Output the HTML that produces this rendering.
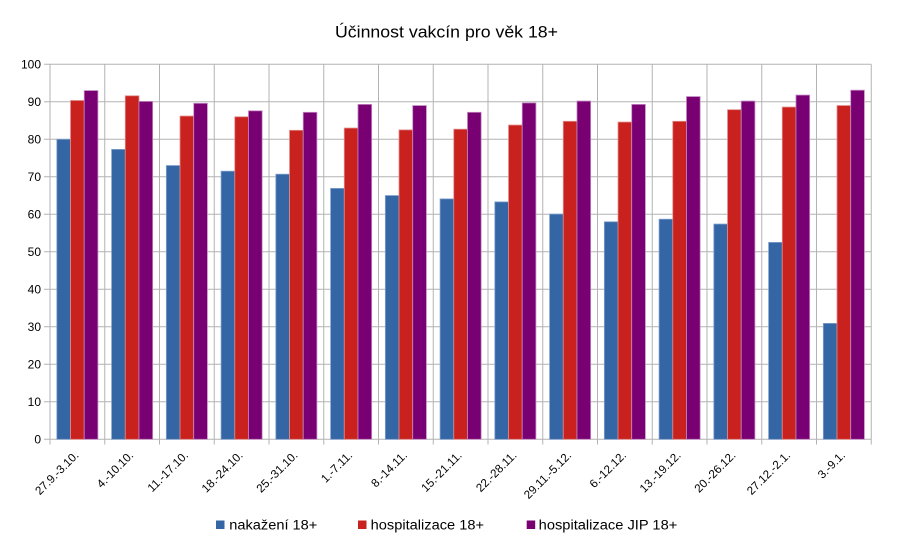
<!DOCTYPE html>
<html>
<head>
<meta charset="utf-8">
<style>
  html,body{margin:0;padding:0;background:#ffffff;}
  svg{display:block;}
  text{font-family:"Liberation Sans", "DejaVu Sans", sans-serif;fill:#000;}
</style>
</head>
<body>
<svg width="898" height="557" viewBox="0 0 898 557" xmlns="http://www.w3.org/2000/svg">
  <rect x="0" y="0" width="898" height="557" fill="#ffffff"/>
  <!-- title -->
  <text x="446.5" y="37.5" font-size="16.5" text-anchor="middle" textLength="223" lengthAdjust="spacingAndGlyphs">Účinnost vakcín pro věk 18+</text>

  <!-- horizontal gridlines -->
  <g stroke="#b3b3b3" stroke-width="1">
    <line x1="44" y1="439.3" x2="871.3" y2="439.3"/>
    <line x1="44" y1="401.8" x2="871.3" y2="401.8"/>
    <line x1="44" y1="364.3" x2="871.3" y2="364.3"/>
    <line x1="44" y1="326.8" x2="871.3" y2="326.8"/>
    <line x1="44" y1="289.3" x2="871.3" y2="289.3"/>
    <line x1="44" y1="251.8" x2="871.3" y2="251.8"/>
    <line x1="44" y1="214.3" x2="871.3" y2="214.3"/>
    <line x1="44" y1="176.8" x2="871.3" y2="176.8"/>
    <line x1="44" y1="139.3" x2="871.3" y2="139.3"/>
    <line x1="44" y1="101.8" x2="871.3" y2="101.8"/>
    <line x1="44" y1="64.3" x2="871.3" y2="64.3"/>
  </g>
  <!-- vertical gridlines + ticks -->
  <g stroke="#b3b3b3" stroke-width="1">
    <line x1="50" y1="64.3" x2="50" y2="444.5"/>
    <line x1="104.75" y1="64.3" x2="104.75" y2="444.5"/>
    <line x1="159.5" y1="64.3" x2="159.5" y2="444.5"/>
    <line x1="214.25" y1="64.3" x2="214.25" y2="444.5"/>
    <line x1="269" y1="64.3" x2="269" y2="444.5"/>
    <line x1="323.75" y1="64.3" x2="323.75" y2="444.5"/>
    <line x1="378.5" y1="64.3" x2="378.5" y2="444.5"/>
    <line x1="433.25" y1="64.3" x2="433.25" y2="444.5"/>
    <line x1="488" y1="64.3" x2="488" y2="444.5"/>
    <line x1="542.75" y1="64.3" x2="542.75" y2="444.5"/>
    <line x1="597.5" y1="64.3" x2="597.5" y2="444.5"/>
    <line x1="652.25" y1="64.3" x2="652.25" y2="444.5"/>
    <line x1="707" y1="64.3" x2="707" y2="444.5"/>
    <line x1="761.75" y1="64.3" x2="761.75" y2="444.5"/>
    <line x1="816.5" y1="64.3" x2="816.5" y2="444.5"/>
    <line x1="871.25" y1="64.3" x2="871.25" y2="444.5"/>
  </g>

  <!-- y labels -->
  <g font-size="12" text-anchor="end">
    <text x="41" y="443.5">0</text>
    <text x="41" y="406">10</text>
    <text x="41" y="368.5">20</text>
    <text x="41" y="331">30</text>
    <text x="41" y="293.5">40</text>
    <text x="41" y="256">50</text>
    <text x="41" y="218.5">60</text>
    <text x="41" y="181">70</text>
    <text x="41" y="143.5">80</text>
    <text x="41" y="106">90</text>
    <text x="41" y="68.5">100</text>
  </g>

  <!-- blue bars -->
  <g fill="#3465a4" stroke="#7f9fcc" stroke-width="0.8">
    <rect x="56.84" y="139.3" width="13.69" height="300"/>
    <rect x="111.59" y="149.4" width="13.69" height="289.9"/>
    <rect x="166.34" y="165.55" width="13.69" height="273.75"/>
    <rect x="221.09" y="171.2" width="13.69" height="268.1"/>
    <rect x="275.84" y="174.2" width="13.69" height="265.1"/>
    <rect x="330.59" y="188.4" width="13.69" height="250.9"/>
    <rect x="385.34" y="195.55" width="13.69" height="243.75"/>
    <rect x="440.09" y="198.9" width="13.69" height="240.4"/>
    <rect x="494.84" y="201.9" width="13.69" height="237.4"/>
    <rect x="549.59" y="214.1" width="13.69" height="225.2"/>
    <rect x="604.34" y="221.8" width="13.69" height="217.5"/>
    <rect x="659.09" y="219.2" width="13.69" height="220.1"/>
    <rect x="713.84" y="224.05" width="13.69" height="215.25"/>
    <rect x="768.59" y="242.4" width="13.69" height="196.9"/>
    <rect x="823.34" y="323.4" width="13.69" height="115.9"/>
  </g>
  <!-- red bars -->
  <g fill="#c9211e" stroke="#e08a88" stroke-width="0.8">
    <rect x="70.53" y="100.5" width="13.69" height="338.8"/>
    <rect x="125.28" y="95.8" width="13.69" height="343.5"/>
    <rect x="180.03" y="116.05" width="13.69" height="323.25"/>
    <rect x="234.78" y="116.8" width="13.69" height="322.5"/>
    <rect x="289.53" y="130.3" width="13.69" height="309"/>
    <rect x="344.28" y="128.05" width="13.69" height="311.25"/>
    <rect x="399.03" y="129.9" width="13.69" height="309.4"/>
    <rect x="453.78" y="129.2" width="13.69" height="310.1"/>
    <rect x="508.53" y="125.05" width="13.69" height="314.25"/>
    <rect x="563.28" y="121.3" width="13.69" height="318"/>
    <rect x="618.03" y="122.05" width="13.69" height="317.25"/>
    <rect x="672.78" y="121.3" width="13.69" height="318"/>
    <rect x="727.53" y="109.7" width="13.69" height="329.6"/>
    <rect x="782.28" y="107.05" width="13.69" height="332.25"/>
    <rect x="837.03" y="105.55" width="13.69" height="333.75"/>
  </g>
  <!-- purple bars -->
  <g fill="#780073" stroke="#c48bc2" stroke-width="0.8">
    <rect x="84.22" y="90.55" width="13.69" height="348.75"/>
    <rect x="138.97" y="101.4" width="13.69" height="337.9"/>
    <rect x="193.72" y="103.3" width="13.69" height="336"/>
    <rect x="248.47" y="110.8" width="13.69" height="328.5"/>
    <rect x="303.22" y="112.3" width="13.69" height="327"/>
    <rect x="357.97" y="104.4" width="13.69" height="334.9"/>
    <rect x="412.72" y="105.55" width="13.69" height="333.75"/>
    <rect x="467.47" y="112.3" width="13.69" height="327"/>
    <rect x="522.22" y="102.9" width="13.69" height="336.4"/>
    <rect x="576.97" y="101.05" width="13.69" height="338.25"/>
    <rect x="631.72" y="104.4" width="13.69" height="334.9"/>
    <rect x="686.47" y="96.55" width="13.69" height="342.75"/>
    <rect x="741.22" y="101.05" width="13.69" height="338.25"/>
    <rect x="795.97" y="95.05" width="13.69" height="344.25"/>
    <rect x="850.72" y="90.2" width="13.69" height="349.1"/>
  </g>

  <!-- x labels -->
  <g font-size="11.7" text-anchor="end">
    <text transform="translate(79.4,456) rotate(-45)">27.9.-3.10.</text>
    <text transform="translate(134.1,456) rotate(-45)">4.-10.10.</text>
    <text transform="translate(188.9,456) rotate(-45)">11.-17.10.</text>
    <text transform="translate(243.6,456) rotate(-45)">18.-24.10.</text>
    <text transform="translate(298.4,456) rotate(-45)">25.-31.10.</text>
    <text transform="translate(353.1,456) rotate(-45)">1.-7.11.</text>
    <text transform="translate(407.9,456) rotate(-45)">8.-14.11.</text>
    <text transform="translate(462.6,456) rotate(-45)">15.-21.11.</text>
    <text transform="translate(517.4,456) rotate(-45)">22.-28.11.</text>
    <text transform="translate(572.1,456) rotate(-45)">29.11.-5.12.</text>
    <text transform="translate(626.9,456) rotate(-45)">6.-12.12.</text>
    <text transform="translate(681.6,456) rotate(-45)">13.-19.12.</text>
    <text transform="translate(736.4,456) rotate(-45)">20.-26.12.</text>
    <text transform="translate(791.1,456) rotate(-45)">27.12.-2.1.</text>
    <text transform="translate(845.9,456) rotate(-45)">3.-9.1.</text>
  </g>

  <!-- legend -->
  <rect x="216" y="520.5" width="8.5" height="8.5" fill="#3465a4"/>
  <text x="229.3" y="529.3" font-size="13.5" textLength="88" lengthAdjust="spacingAndGlyphs">nakažení 18+</text>
  <rect x="358" y="520.5" width="8.5" height="8.5" fill="#c9211e"/>
  <text x="370.7" y="529.3" font-size="13.5" textLength="113.3" lengthAdjust="spacingAndGlyphs">hospitalizace 18+</text>
  <rect x="526.7" y="520.5" width="8.5" height="8.5" fill="#780073"/>
  <text x="538.7" y="529.3" font-size="13.5" textLength="138.6" lengthAdjust="spacingAndGlyphs">hospitalizace JIP 18+</text>
</svg>
</body>
</html>
